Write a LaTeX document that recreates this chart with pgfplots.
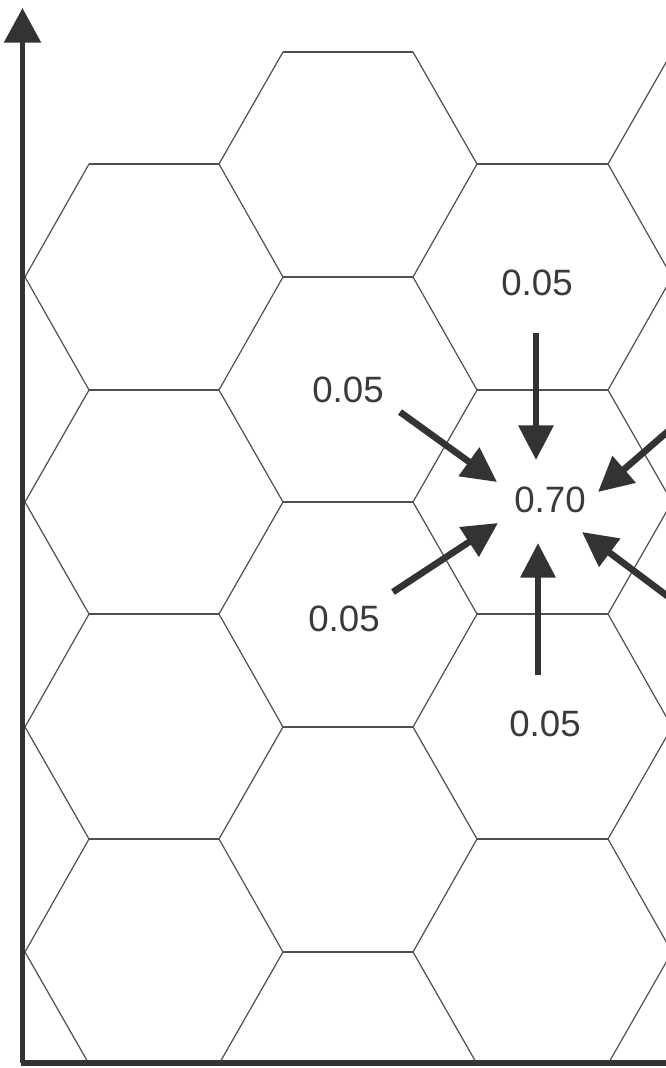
\documentclass[border=0pt]{standalone}
\usepackage{pgfplots}
\pgfplotsset{compat=1.18}
\usepackage{fontspec}
\setmainfont{Liberation Sans}
\usetikzlibrary{arrows.meta}
\definecolor{hexline}{HTML}{505050}
\definecolor{ink}{HTML}{333333}
\definecolor{txt}{HTML}{3A3A3A}
\begin{document}
\begin{tikzpicture}
\begin{axis}[scale only axis, width=499.5pt, height=801pt,
  xmin=0, xmax=666, ymin=0, ymax=1068, y dir=reverse,
  hide axis, clip=true, unbounded coords=jump]
% zigzag edges of the hexagonal lattice
\addplot[hexline, line width=0.9pt, line join=round] coordinates {(89,164) (25,277) (89,390) (25,502) (89,614) (25,727) (89,839) (25,952) (89,1064)};
\addplot[hexline, line width=0.9pt, line join=round] coordinates {(283,52) (219,164) (283,277) (219,390) (283,502) (219,614) (283,727) (219,839) (283,952) (219,1064)};
\addplot[hexline, line width=0.9pt, line join=round] coordinates {(413,52) (477,164) (413,277) (477,390) (413,502) (477,614) (413,727) (477,839) (413,952) (477,1064)};
\addplot[hexline, line width=0.9pt, line join=round] coordinates {(672,52) (608,164) (672,277) (608,390) (672,502) (608,614) (672,727) (608,839) (672,952) (608,1064)};
% horizontal edges
\addplot[hexline, line width=0.9pt] coordinates {(89,164) (219,164) (nan,nan) (89,390) (219,390) (nan,nan) (89,614) (219,614) (nan,nan) (89,839) (219,839)};
\addplot[hexline, line width=0.9pt] coordinates {(283,52) (413,52) (nan,nan) (283,277) (413,277) (nan,nan) (283,502) (413,502) (nan,nan) (283,727) (413,727) (nan,nan) (283,952) (413,952)};
\addplot[hexline, line width=0.9pt] coordinates {(477,164) (608,164) (nan,nan) (477,390) (608,390) (nan,nan) (477,614) (608,614) (nan,nan) (477,839) (608,839)};
% axes of the drawing
\addplot[ink, line width=4.2pt, -{Triangle[width=27pt,length=26pt]}] coordinates {(22.5,1063) (22.5,8)};
\addplot[ink, line width=4.6pt] coordinates {(20.5,1063) (666,1063)};
% arrows pointing to the centre cell
\addplot[ink, line width=5pt, -{Triangle[width=25.5pt,length=26pt]}] coordinates {(536,333) (536,460)};
\addplot[ink, line width=5pt, -{Triangle[width=25.5pt,length=26pt]}] coordinates {(538,675) (538,543)};
\addplot[ink, line width=5pt, -{Triangle[width=25.5pt,length=26pt]}] coordinates {(400,412) (497,482)};
\addplot[ink, line width=5pt, -{Triangle[width=25.5pt,length=26pt]}] coordinates {(393,592) (498,523)};
\addplot[ink, line width=5pt, -{Triangle[width=25.5pt,length=26pt]}] coordinates {(689,413) (598,492)};
\addplot[ink, line width=5pt, -{Triangle[width=25.5pt,length=26pt]}] coordinates {(678,604) (582,532)};
% labels
\node[text=txt, inner sep=0pt, font=\fontsize{27.5}{33}\selectfont] at (axis cs:537,283) {0.05};
\node[text=txt, inner sep=0pt, font=\fontsize{27.5}{33}\selectfont] at (axis cs:348,390) {0.05};
\node[text=txt, inner sep=0pt, font=\fontsize{27.5}{33}\selectfont] at (axis cs:344,619) {0.05};
\node[text=txt, inner sep=0pt, font=\fontsize{27.5}{33}\selectfont] at (axis cs:545,724) {0.05};
\node[text=txt, inner sep=0pt, font=\fontsize{27.5}{33}\selectfont] at (axis cs:550,500) {0.70};
\end{axis}
\pgfresetboundingbox
\path (current axis.south west) rectangle (current axis.north east);
\end{tikzpicture}
\end{document}
